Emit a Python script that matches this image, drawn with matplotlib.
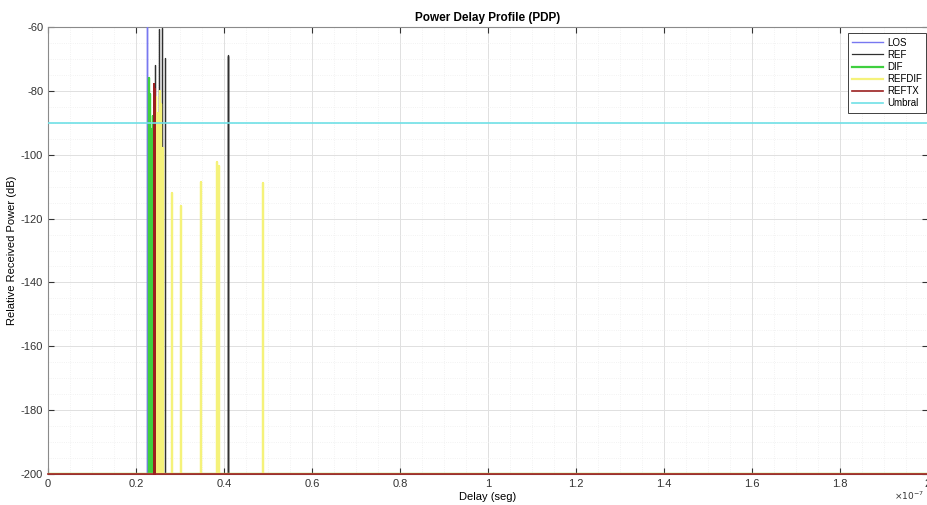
import matplotlib.pyplot as plt
from matplotlib.ticker import FuncFormatter
import numpy as np

plt.rcParams['font.family'] = ['Liberation Sans', 'DejaVu Sans']
plt.rcParams['axes.unicode_minus'] = False

# arrival delays (s) and relative power (dB) of each contribution
los_t = [0.225e-7]
los_p = [-60.0]

ref_t = [0.243e-7, 0.252e-7, 0.259e-7, 0.266e-7, 0.408e-7, 0.410e-7]
ref_p = [-71.9, -60.6, -60.2, -69.7, -68.8, -69.2]

dif_t = [0.229e-7, 0.232e-7, 0.236e-7, 0.238e-7]
dif_p = [-76.0, -81.0, -92.0, -88.0]

refdif_t = [0.246e-7, 0.250e-7, 0.254e-7, 0.257e-7, 0.262e-7, 0.282e-7,
            0.302e-7, 0.348e-7, 0.384e-7, 0.388e-7, 0.489e-7]
refdif_p = [-82.0, -87.0, -80.0, -84.0, -98.0, -112.0,
            -116.0, -108.5, -102.3, -103.5, -109.0]

reftx_t = [0.240e-7, 0.244e-7]
reftx_p = [-78.0, -79.5]

umbral = -90.0
floor_db = -200.0
t_end = 2e-7


def pulses(t, p):
    # impulse train sitting on the noise floor
    x, y = [0.0], [floor_db]
    for ti, pi in sorted(zip(t, p)):
        x += [ti, ti, ti]
        y += [floor_db, pi, floor_db]
    x.append(t_end)
    y.append(floor_db)
    return x, y


fig = plt.figure(figsize=(9.28, 5.05), dpi=100)
ax = fig.add_axes([48 / 928, 31 / 505, 880 / 928, 447 / 505])

series = [
    (los_t, los_p, 'LOS', '#7878f0', 1.0),
    (ref_t, ref_p, 'REF', '#303030', 0.9),
    (dif_t, dif_p, 'DIF', '#3fcf3f', 1.6),
    (refdif_t, refdif_p, 'REFDIF', '#f5f27a', 1.6),
    (reftx_t, reftx_p, 'REFTX', '#9b2020', 1.2),
]
for t, p, name, col, lw in series:
    x, y = pulses(t, p)
    ax.plot(x, y, color=col, lw=lw, label=name, zorder=3,
            clip_on=(name != 'REFTX'))

ax.plot([0, t_end], [umbral, umbral], color='#6fe0e6', lw=1.2, label='Umbral', zorder=3)

ax.set_xlim(0, t_end)
ax.set_ylim(-200, -60)
ax.set_xticks(np.arange(0, 2.01e-7, 0.2e-7))
ax.set_yticks(np.arange(-200, -59, 20))
ax.set_xticks(np.arange(0, 2.01e-7, 0.05e-7), minor=True)
ax.set_yticks(np.arange(-200, -59, 5), minor=True)
ax.xaxis.set_major_formatter(FuncFormatter(lambda v, pos: '%g' % round(v / 1e-7, 3)))
ax.grid(which='major', color='#e0e0e0', lw=0.7, ls='-')
ax.grid(which='minor', color='#eeeeee', lw=0.6, ls=':')
ax.set_axisbelow(True)

ax.tick_params(which='both', direction='in', top=True, right=True,
               labelsize=8, colors='#333333', length=4)
ax.tick_params(which='minor', length=0)
for s in ax.spines.values():
    s.set_color('#8a8a8a')
    s.set_linewidth(0.8)

ax.set_title('Power Delay Profile (PDP)', fontsize=8.5, fontweight='bold', pad=4)
ax.set_xlabel('Delay (seg)', fontsize=8, labelpad=2)
ax.set_ylabel('Relative Received Power (dB)', fontsize=8, labelpad=3)
fig.text(0.995, 0.006, r'$\times10^{-7}$', fontsize=6.5, color='#333333',
         ha='right', va='bottom')

leg = ax.legend(loc='upper right', fontsize=7, handlelength=3.2, handletextpad=0.4,
                borderpad=0.45, labelspacing=0.22, fancybox=False, framealpha=1,
                edgecolor='#404040', borderaxespad=0, bbox_to_anchor=(0.998, 0.986))
leg.get_frame().set_linewidth(0.7)

fig.savefig('out.png', dpi=100)
